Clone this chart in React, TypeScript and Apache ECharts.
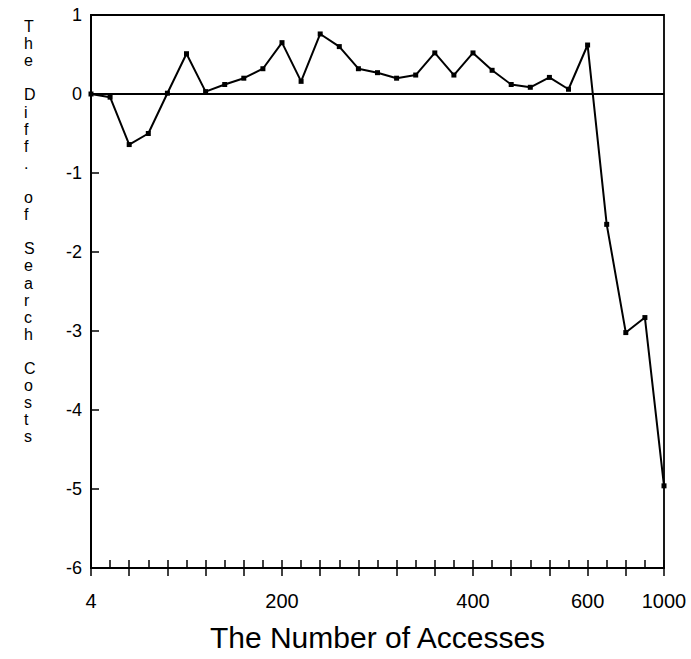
import React, { useEffect, useRef } from "react";
import * as echarts from "echarts";

// Index positions along x (evenly spaced samples) and their tick labels
const labelIndex = [0, 10, 20, 26, 30];
const labelText = ["4", "200", "400", "600", "1000"];

// Difference of search costs at each sample
const diffValues = [
  0.0, -0.04, -0.64, -0.5, 0.01, 0.51, 0.03, 0.12, 0.2, 0.32, 0.65,
  0.16, 0.76, 0.6, 0.32, 0.27, 0.2, 0.24, 0.52, 0.24, 0.52, 0.3,
  0.12, 0.085, 0.21, 0.06, 0.62, -1.65, -3.02, -2.83, -4.96,
];

const yTitle = "The Diff. of Search Costs";
const xTitle = "The Number of Accesses";

const FONT = "'Liberation Sans', Arial, Helvetica, sans-serif";

export default function App() {
  const ref = useRef<HTMLDivElement>(null);
  useEffect(() => {
    if (!ref.current) return;
    const chart = echarts.init(ref.current, null, { renderer: "svg" });
    const data = diffValues.map((v, i) => [i, v]);
    const verticalTitle = yTitle.split("").join("\n");
    chart.setOption({
      animation: false,
      backgroundColor: "#ffffff",
      grid: {
        left: 91,
        right: 27,
        top: 15,
        bottom: 91,
        show: true,
        borderColor: "#000",
        borderWidth: 1.8,
      },
      xAxis: [
        {
          type: "value",
          min: 0,
          max: 30,
          interval: 1,
          position: "bottom",
          axisLine: { show: true, onZero: false, lineStyle: { color: "#000", width: 2 } },
          axisTick: { show: true, inside: true, length: 8, lineStyle: { color: "#000", width: 1.5 } },
          splitLine: { show: false },
          axisLabel: {
            color: "#000",
            fontSize: 20,
            fontFamily: FONT,
            margin: 23,
            formatter: (v: number) => {
              const k = labelIndex.indexOf(Math.round(v));
              return k >= 0 ? labelText[k] : "";
            },
          },
          name: xTitle,
          nameLocation: "middle",
          nameGap: 54,
          nameTextStyle: { color: "#000", fontSize: 30, fontFamily: FONT },
        },
        {
          type: "value",
          min: 0,
          max: 30,
          interval: 2,
          position: "bottom",
          axisLine: { show: false, onZero: false },
          axisTick: { show: true, inside: false, length: 8, lineStyle: { color: "#000", width: 1.5 } },
          axisLabel: { show: false },
          splitLine: { show: false },
        },
      ],
      yAxis: {
        type: "value",
        min: -6,
        max: 1,
        interval: 1,
        axisLine: { show: true, onZero: false, lineStyle: { color: "#000", width: 2 } },
        axisTick: { show: true, inside: true, length: 8, lineStyle: { color: "#000", width: 1.5 } },
        splitLine: { show: false },
        axisLabel: { color: "#000", fontSize: 18, fontFamily: FONT, margin: 9 },
      },
      graphic: [
        {
          type: "text",
          left: 24,
          top: 18,
          style: {
            text: verticalTitle,
            fontSize: 16,
            lineHeight: 17.1,
            fontFamily: FONT,
            fill: "#000",
            align: "center",
          },
        },
      ],
      series: [
        {
          type: "line",
          data,
          symbol: "rect",
          symbolSize: 5,
          itemStyle: { color: "#000" },
          lineStyle: { color: "#000", width: 2 },
          markLine: {
            silent: true,
            symbol: "none",
            label: { show: false },
            lineStyle: { color: "#000", width: 2, type: "solid" },
            data: [{ yAxis: 0 }],
          },
        },
      ],
    });
    return () => chart.dispose();
  }, []);
  return (
    <div
      ref={ref}
      style={{ position: "absolute", left: 0, top: 0, width: 691, height: 659 }}
    />
  );
}
